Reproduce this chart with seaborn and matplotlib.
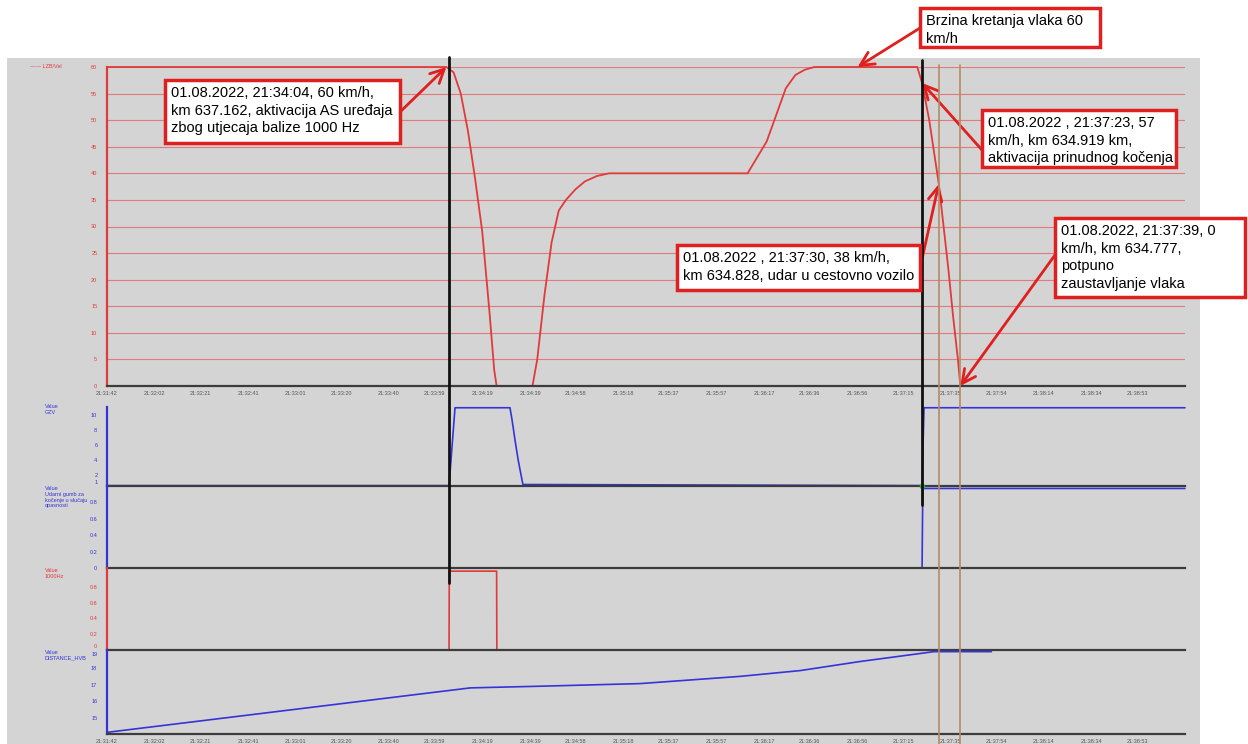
import matplotlib
matplotlib.use("Agg")
import matplotlib.pyplot as plt
import seaborn as sns
import pandas as pd
from matplotlib.patches import Rectangle
from matplotlib.lines import Line2D
from matplotlib.transforms import blended_transform_factory, ScaledTranslation

# ---------------- data ----------------
T0 = "21:31:42"
tick_labels = ["21:31:42", "21:32:02", "21:32:21", "21:32:41", "21:33:01", "21:33:20",
               "21:33:40", "21:33:59", "21:34:19", "21:34:39", "21:34:58", "21:35:18",
               "21:35:37", "21:35:57", "21:36:17", "21:36:36", "21:36:56", "21:37:15",
               "21:37:35", "21:37:54", "21:38:14", "21:38:34", "21:38:53"]

# speed (km/h), time in seconds after 21:31:42
speed_t = [0, 142, 145, 148, 151, 154, 157, 160, 162, 163, 178, 180, 183, 186, 189, 192,
           196, 200, 205, 210, 268, 272, 276, 280, 284, 288, 292, 296, 339, 341, 344, 346,
           348, 350, 352, 354, 356, 357, 370]
speed_v = [60, 60, 59, 55, 48, 39, 29, 14, 3, 0, 0, 5, 17, 27, 33, 35,
           37, 38.5, 39.5, 40, 40, 43, 46, 51, 56, 58.5, 59.5, 60, 60, 57, 50, 44,
           38, 30, 22, 13, 5, 0, 0]

# GZV
gzv_t = [0, 143.1, 145.6, 168.6, 169.5, 170.7, 172, 173.2, 174, 341, 341.8, 451]
gzv_v = [0.55, 0.55, 10.9, 10.9, 9.2, 6.6, 4.0, 2.0, 0.7, 0.55, 10.9, 10.9]

# emergency brake button
btn_t = [0, 341, 341.3, 451]
btn_v = [0, 0, 0.97, 0.97]

# 1000 Hz balise
hz_t = [0, 143.1, 143.2, 163, 163.1, 370]
hz_v = [0, 0, 1, 1, 0, 0]

# DISTANCE_HVB
dist_t = [0, 152, 181, 223, 265, 290, 315, 346, 370]
dist_v = [14.1, 16.8, 16.9, 17.06, 17.5, 17.85, 18.4, 19.0, 19.0]

black_events = ["21:34:05", "21:37:23"]
tan_events = ["21:37:30", "21:37:39"]

notes = [
    ("01.08.2022, 21:34:04, 60 km/h,\nkm 637.162, aktivacija AS uređaja\nzbog utjecaja balize 1000 Hz", "21:34:04", 60),
    ("Brzina kretanja vlaka 60\nkm/h", "21:36:56", 60),
    ("01.08.2022 , 21:37:23, 57\nkm/h, km 634.919 km,\naktivacija prinudnog kočenja", "21:37:23", 57),
    ("01.08.2022 , 21:37:30, 38 km/h,\nkm 634.828, udar u cestovno vozilo", "21:37:30", 38),
    ("01.08.2022, 21:37:39, 0\nkm/h, km 634.777,\npotpuno\nzaustavljanje vlaka", "21:37:39", 0),
]


def sec(s):
    h, m, x = map(int, s.split(":"))
    h0, m0, x0 = map(int, T0.split(":"))
    return (h * 3600 + m * 60 + x) - (h0 * 3600 + m0 * 60 + x0)


# ---------------- style ----------------
sns.set_theme(style="white")
plt.rcParams["font.family"] = ["Liberation Sans", "DejaVu Sans"]

W, H = 1248, 744
fig = plt.figure(figsize=(W / 100, H / 100), dpi=100)
fig.patch.set_facecolor("white")
fig.patches.append(Rectangle((7 / W, 0), (1200 - 7) / W, (H - 58) / H,
                             transform=fig.transFigure, facecolor="#d4d4d4",
                             edgecolor="none", zorder=-10))


def rect(x0, y0, x1, y1):
    return [x0 / W, 1 - y1 / H, (x1 - x0) / W, (y1 - y0) / H]


RED = "#e03a3a"
BLUE = "#3434d8"
DARK = "#3c3c3c"
XMAX = 451
xticks = [sec(t) for t in tick_labels]


def setup(ax, color, show_x):
    ax.set_facecolor("none")
    ax.set_xlim(0, XMAX)
    for s in ["top", "right"]:
        ax.spines[s].set_visible(False)
    ax.spines["left"].set_color(color)
    ax.spines["left"].set_linewidth(1.6)
    ax.spines["bottom"].set_color(DARK)
    ax.spines["bottom"].set_linewidth(1.6)
    ax.set_xticks(xticks)
    ax.set_xticklabels(tick_labels if show_x else [])
    ax.tick_params(axis="x", direction="inout", length=4, width=1, color=DARK,
                   labelsize=4, labelcolor="#555555", pad=1.5)
    ax.tick_params(axis="y", direction="inout", length=4, width=1, color=color,
                   labelsize=4, labelcolor=color, pad=5)
    ax.set_xlabel("")
    ax.set_ylabel("")


ax1 = fig.add_axes(rect(107, 67, 1185, 386))
ax2 = fig.add_axes(rect(107, 407, 1185, 486))
ax3 = fig.add_axes(rect(107, 486, 1185, 568))
ax4 = fig.add_axes(rect(107, 568, 1185, 650))
ax5 = fig.add_axes(rect(107, 650, 1185, 734))

# speed
sns.lineplot(x=speed_t, y=speed_v, ax=ax1, color=RED, lw=1.3, clip_on=False)
ax1.set_ylim(0, 60)
ax1.set_yticks(range(0, 61, 5))
ax1.grid(axis="y", color="#e27a7a", lw=0.8)
ax1.grid(axis="x", visible=False)
setup(ax1, RED, True)

# GZV
sns.lineplot(x=gzv_t, y=gzv_v, ax=ax2, color=BLUE, lw=1.2, clip_on=False)
ax2.set_ylim(0.5, 11)
ax2.set_yticks([1, 2, 4, 6, 8, 10])
setup(ax2, BLUE, False)

frac_ticks = [0, 0.2, 0.4, 0.6, 0.8]
frac_labels = ["0", "0.2", "0.4", "0.6", "0.8"]

# emergency button
sns.lineplot(x=btn_t, y=btn_v, ax=ax3, color=BLUE, lw=1.2, clip_on=False)
ax3.plot([341], [1.0], marker="o", ms=3, color="#30b030", clip_on=False, zorder=5)
ax3.set_ylim(0, 1)
ax3.set_yticks(frac_ticks)
ax3.set_yticklabels(frac_labels)
setup(ax3, BLUE, False)

# 1000 Hz
sns.lineplot(x=hz_t, y=hz_v, ax=ax4, color=RED, lw=1.2, clip_on=False)
ax4.set_ylim(0, 1.04)
ax4.set_yticks(frac_ticks)
ax4.set_yticklabels(frac_labels)
setup(ax4, RED, False)

# distance
sns.lineplot(x=dist_t, y=dist_v, ax=ax5, color=BLUE, lw=1.2, clip_on=False)
ax5.set_ylim(14, 19.1)
ax5.set_yticks([15, 16, 17, 18, 19])
setup(ax5, BLUE, True)

# nudge the two labels that meet at the 1000Hz / distance boundary
fig.canvas.draw()
ax4.get_yticklabels()[0].set_transform(
    ax4.get_yticklabels()[0].get_transform() + ScaledTranslation(0, 3.5 / 100, fig.dpi_scale_trans))
ax5.get_yticklabels()[-1].set_transform(
    ax5.get_yticklabels()[-1].get_transform() + ScaledTranslation(0, -2.5 / 100, fig.dpi_scale_trans))

# vertical event lines spanning panels
bt = blended_transform_factory(ax1.transData, fig.transFigure)
spans_black = [(57, 583), (60, 505)]
for ev, (ya, yb) in zip(black_events, spans_black):
    fig.lines.append(Line2D([sec(ev), sec(ev)], [1 - ya / H, 1 - yb / H], transform=bt,
                            color="#111111", lw=2, zorder=6))
for ev in tan_events:
    fig.lines.append(Line2D([sec(ev), sec(ev)], [1 - 65 / H, 0], transform=bt,
                            color="#b58a66", lw=1.2, zorder=6))

# panel labels
fig.text(30 / W, 1 - 67 / H, "—— LZB/Vel", color=RED, fontsize=4, va="center")
fig.text(45 / W, 1 - 404 / H, "Value\nGZV", color=BLUE, fontsize=4, va="top")
fig.text(45 / W, 1 - 486 / H, "Value\nUdarni gumb za\nkočenje u slučaju\nopasnosti",
         color=BLUE, fontsize=4, va="top")
fig.text(45 / W, 1 - 568 / H, "Value\n1000Hz", color=RED, fontsize=4, va="top")
fig.text(45 / W, 1 - 650 / H, "Value\nDISTANCE_HVB", color=BLUE, fontsize=4, va="top")

# annotation boxes (pixel layout) with arrows to data points
boxes = [(165, 80, 400, 143), (920, 8, 1100, 47), (982, 110, 1176, 167),
         (677, 245, 920, 290), (1055, 218, 1245, 297)]
tails = [(400, 112), (920, 28), (982, 150), (920, 268), (1055, 255)]
ANN = "#e01f1f"
for (txt, tstr, v), (bx0, by0, bx1, by1), (tx, ty) in zip(notes, boxes, tails):
    ax1.annotate("", xy=(sec(tstr), v), xycoords="data",
                 xytext=(tx, H - ty), textcoords="figure pixels",
                 arrowprops=dict(arrowstyle="->,head_length=0.7,head_width=0.35",
                                 color=ANN, lw=2, shrinkA=0, shrinkB=0,
                                 mutation_scale=14),
                 annotation_clip=False, zorder=9)
    fig.patches.append(Rectangle((bx0 / W, 1 - by1 / H), (bx1 - bx0) / W, (by1 - by0) / H,
                                 transform=fig.transFigure, facecolor="white",
                                 edgecolor=ANN, lw=2.5, zorder=10))
    fig.text((bx0 + 6) / W, 1 - (by0 + 6) / H, txt, fontsize=10.5, color="black",
             ha="left", va="top", linespacing=1.32, zorder=11)

fig.savefig("out.png", dpi=100)
